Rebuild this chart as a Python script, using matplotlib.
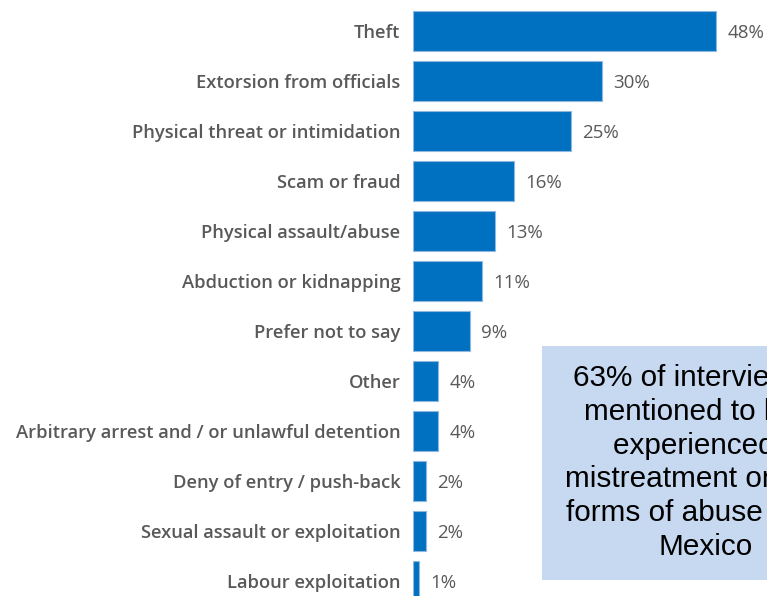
import matplotlib.pyplot as plt
from matplotlib.patches import Rectangle

# Data
categories = [
    "Theft",
    "Extorsion from officials",
    "Physical threat or intimidation",
    "Scam or fraud",
    "Physical assault/abuse",
    "Abduction or kidnapping",
    "Prefer not to say",
    "Other",
    "Arbitrary arrest and / or unlawful detention",
    "Deny of entry / push-back",
    "Sexual assault or exploitation",
    "Labour exploitation",
]
values = [48, 30, 25, 16, 13, 11, 9, 4, 4, 2, 2, 1]
note_lines = [
    "63% of interviewees",
    "mentioned to have",
    "experienced a",
    "mistreatment or other",
    "forms of abuse within",
    "Mexico",
]

W, H = 767, 596
fig = plt.figure(figsize=(W / 100, H / 100), dpi=100)

# axes placed so that bars start at x=413px, 1% ~ 6.31px
x_max = 55
ax = fig.add_axes([413 / W, 0, x_max * 6.31 / W, 1])
ypos = list(range(len(categories)))
ax.barh(ypos, values, height=0.8, color="#0070C0", edgecolor="#8fb8e0",
        linewidth=0.8)
ax.set_xlim(0, x_max)
ax.set_ylim(-0.62 + H / 50, -0.62)

ax.set_yticks(ypos)
ax.set_yticklabels(categories, fontfamily="Open Sans", fontsize=13.2,
                   fontweight="semibold", color="#595959")
ax.tick_params(axis="y", length=0, pad=9)
ax.set_xticks([])
for s in ax.spines.values():
    s.set_visible(False)

for y, v in zip(ypos, values):
    ax.text(v + 1.8, y + 0.05, f"{v}%", va="center", ha="left",
            fontfamily="Open Sans", fontsize=13.5, color="#595959")

# annotation box, cut by the right edge of the picture
fig.patches.append(Rectangle((542 / W, 1 - 580 / H), 300 / W, 234 / H,
                             transform=fig.transFigure, facecolor="#c6d9f1",
                             edgecolor="none", zorder=3))
fig.text(706 / W, 1 - 462.5 / H, "\n".join(note_lines), ha="center",
         va="center", fontfamily="Liberation Sans", fontsize=21.4,
         linespacing=1.27, color="black", zorder=4)

fig.savefig("out.png", dpi=100)
